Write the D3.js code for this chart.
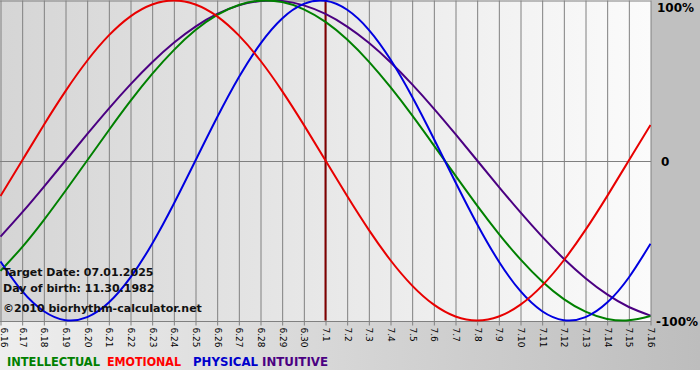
<!DOCTYPE html>
<html><head><meta charset="utf-8">
<script src="https://cdn.jsdelivr.net/npm/d3@7"></script>
<style>html,body{margin:0;padding:0;background:#fff;}svg{display:block;}</style>
</head><body>
<svg id="c" width="700" height="380"></svg>
<script>
const dates = ["6.16","6.17","6.18","6.19","6.20","6.21","6.22","6.23","6.24","6.25","6.26","6.27","6.28","6.29","6.30","7.1","7.2","7.3","7.4","7.5","7.6","7.7","7.8","7.9","7.10","7.11","7.12","7.13","7.14","7.15","7.16"];
const physical = [-0.631,-0.817,-0.942,-0.998,-0.979,-0.888,-0.731,-0.520,-0.270,0,0.270,0.520,0.731,0.888,0.979,0.998,0.942,0.817,0.631,0.398,0.136,-0.136,-0.398,-0.631,-0.817,-0.942,-0.998,-0.979,-0.888,-0.731,-0.520];
const emotional = [-0.2225,0,0.2225,0.4339,0.6235,0.7818,0.9010,0.9749,1,0.9749,0.9010,0.7818,0.6235,0.4339,0.2225,0,-0.2225,-0.4339,-0.6235,-0.7818,-0.9010,-0.9749,-1,-0.9749,-0.9010,-0.7818,-0.6235,-0.4339,-0.2225,0,0.2225];
const intellectual = [-0.690,-0.541,-0.372,-0.189,0,0.189,0.372,0.541,0.690,0.815,0.910,0.972,0.999,0.990,0.945,0.866,0.756,0.618,0.458,0.282,0.095,-0.095,-0.282,-0.458,-0.618,-0.756,-0.866,-0.945,-0.990,-0.999,-0.972];
const intuitive = [-0.4759,-0.3247,-0.1646,0,0.1646,0.3247,0.4759,0.6142,0.7357,0.8372,0.9158,0.9694,0.9966,0.9966,0.9694,0.9158,0.8372,0.7357,0.6142,0.4759,0.3247,0.1646,0,-0.1646,-0.3247,-0.4759,-0.6142,-0.7357,-0.8372,-0.9158,-0.9694];
const yTicks = [1, 0, -1];
const yTickLabels = ["100%", "0", "-100%"];
const targetDate = "7.1";
const infoLines = ["Target Date: 07.01.2025", "Day of birth: 11.30.1982", "\u00a92010 biorhythm-calculator.net"];
const legendNames = ["INTELLECTUAL", "EMOTIONAL", "PHYSICAL", "INTUITIVE"];

const svg = d3.select("#c");
const W = 700, H = 380;
const plotL = 0.5, plotR = 650.5, plotT = 0.5, plotB = 320.5;

const defs = svg.append("defs");
const g1 = defs.append("linearGradient").attr("id","plotbg").attr("x1","0").attr("x2","1").attr("y1","0").attr("y2","0");
g1.append("stop").attr("offset","0").attr("stop-color","#d5d5d5");
g1.append("stop").attr("offset","1").attr("stop-color","#fbfbfb");
const g2 = defs.append("linearGradient").attr("id","botbg").attr("x1","0").attr("x2","1").attr("y1","0").attr("y2","0");
g2.append("stop").attr("offset","0").attr("stop-color","#eeeeee");
g2.append("stop").attr("offset","1").attr("stop-color","#bdbdbd");

svg.append("rect").attr("x",0).attr("y",0).attr("width",W).attr("height",H).attr("fill","#ffffff");
svg.append("rect").attr("x",0).attr("y",320).attr("width",W).attr("height",50).attr("fill","url(#botbg)");
svg.append("rect").attr("x",651).attr("y",0).attr("width",W-651).attr("height",321).attr("fill","#c0c0c0");
svg.append("rect").attr("x",0).attr("y",0).attr("width",651).attr("height",321).attr("fill","url(#plotbg)");

const x = d3.scalePoint().domain(dates).range([plotL, plotR]);
const y = d3.scaleLinear().domain([-1, 1]).range([plotB, plotT]);

const xAxis = d3.axisBottom(x).tickSize(-(plotB - plotT) - 5).tickSizeOuter(0).tickPadding(0);
const ax = svg.append("g").attr("transform", `translate(0,${plotB + 5})`).call(xAxis);
ax.select(".domain").remove();
ax.selectAll(".tick line").attr("stroke","#808080").attr("stroke-width",1);
ax.selectAll(".tick text")
  .attr("transform","rotate(90)")
  .attr("x", 2).attr("y", (d,i) => i === 0 ? -3.5 : 0).attr("dy","0.35em")
  .attr("text-anchor","start")
  .attr("fill","#000")
  .style("font-family","'DejaVu Sans', Verdana, sans-serif")
  .style("font-size","9px");

svg.selectAll("line.h").data(yTicks).enter().append("line")
  .attr("x1", 0).attr("x2", 651)
  .attr("y1", d => Math.round(y(d)) + 0.5 - (d===1?0.5:0) ).attr("y2", d => Math.round(y(d)) + 0.5 - (d===1?0.5:0))
  .attr("stroke","#808080").attr("stroke-width",1);

svg.selectAll("text.yl").data(yTicks).enter().append("text")
  .attr("x", (d,i) => i===1 ? 661 : (i===0 ? 657 : 656))
  .attr("y", d => y(d) + (d===1 ? 11 : 5))
  .text((d,i) => yTickLabels[i])
  .attr("fill","#000")
  .style("font-family","'DejaVu Sans', Verdana, sans-serif")
  .style("font-weight","bold").style("font-size","12px");

svg.append("line").attr("x1", x(targetDate)).attr("x2", x(targetDate))
  .attr("y1", 0).attr("y2", plotB)
  .attr("stroke","#800000").attr("stroke-width",2);

const line = d3.line().x((d,i) => x(dates[i])).y(d => y(d)).curve(d3.curveNatural);
const series = [
  {name:"INTUITIVE", vals:intuitive, color:"#4b0082"},
  {name:"INTELLECTUAL", vals:intellectual, color:"#008000"},
  {name:"PHYSICAL", vals:physical, color:"#0000e0"},
  {name:"EMOTIONAL", vals:emotional, color:"#e80000"}
];
const clip = defs.append("clipPath").attr("id","pc");
clip.append("rect").attr("x",0).attr("y",0).attr("width",651).attr("height",322);
svg.append("g").attr("clip-path","url(#pc)").selectAll("path").data(series).enter().append("path")
  .attr("d", d => line(d.vals)).attr("fill","none")
  .attr("stroke", d => d.color).attr("stroke-width", 2);

svg.selectAll("text.info").data(infoLines).enter().append("text")
  .attr("x", 3).attr("y", (d,i) => [276, 292, 312][i])
  .text(d => d)
  .attr("fill","#111")
  .style("font-family","'DejaVu Sans', Verdana, sans-serif")
  .style("font-weight","bold").style("font-size","11px");

const legColors = {"INTELLECTUAL":"#008000","EMOTIONAL":"#ff0000","PHYSICAL":"#0000cc","INTUITIVE":"#4b0082"};
const legX = [7, 107, 193, 262];
const legW = [93, 74, 65, 66];
svg.selectAll("text.leg").data(legendNames).enter().append("text")
  .attr("x", (d,i) => legX[i]).attr("y", 366)
  .attr("textLength", (d,i) => legW[i]).attr("lengthAdjust","spacingAndGlyphs")
  .text(d => d)
  .attr("fill", d => legColors[d])
  .style("font-family","'DejaVu Sans Condensed', 'DejaVu Sans', sans-serif")
  .style("font-stretch","condensed")
  .style("font-weight","bold").style("font-size","13px");
</script>
</body></html>
